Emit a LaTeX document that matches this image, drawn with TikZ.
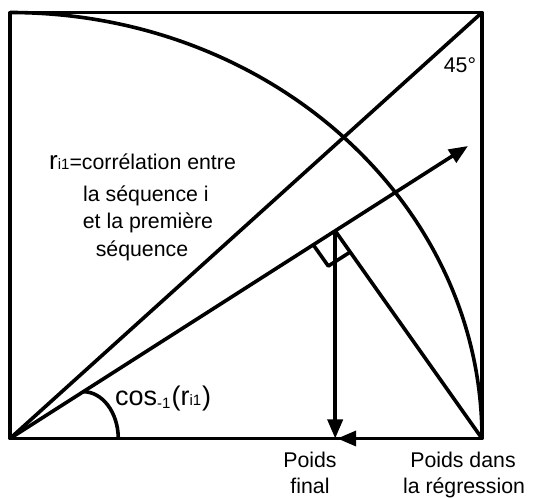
\documentclass[tikz,border=0pt]{standalone}
\usepackage{fontspec}
\setmainfont{Liberation Sans}
\usetikzlibrary{arrows.meta,calc}
\tikzset{
  ln/.style={line width=3.6pt, line join=round},
  arr/.style={ln, -{Triangle[length=19pt,width=15pt]}},
  lbl/.style={font=\fontsize{21.3}{25}\selectfont, inner sep=0pt, anchor=base},
}
\newcommand{\smallsub}[1]{{\fontsize{15}{15}\selectfont #1}}
\newcommand{\bigtxt}[1]{{\fontsize{27}{27}\selectfont #1}}
\begin{document}
\begin{tikzpicture}[x=1pt,y=1pt]
\useasboundingbox (0,0) rectangle (534,497);
\coordinate (O) at (10,58.5);
\coordinate (A) at (10,484.5);
\coordinate (C) at (482,484.5);
\coordinate (B) at (482,58.5);
\coordinate (T) at (468,351);
\coordinate (F) at ($(O)!0.71!(T)$);
\coordinate (Fb) at (F |- O);
\coordinate (G) at ($(Fb)+(2,0)$);
\coordinate (R1) at ($(F)!26pt!(O)$);
\coordinate (R3) at ($(F)!26pt!(B)$);
\coordinate (R2) at ($(R1)+(R3)-(F)$);
\coordinate (S) at ($(O)!0.16!(T)$);
% frame
\draw[ln] (A) rectangle (B);
% quarter arc
\draw[ln] (A) arc[start angle=90, end angle=0, x radius=472, y radius=426];
% diagonal
\draw[ln] (O) -- (C);
% vector
\draw[arr] (O) -- (T);
% projections
\draw[ln] (F) -- (B);
\draw[arr] (F) -- (Fb);
\draw[arr] (B) -- (G);
% right angle marker
\draw[ln] (R1) -- (R2) -- (R3);
% angle arc
\draw[ln] (S) arc[start angle=90, end angle=0, x radius=35, y radius=47];
% labels
\node[lbl] (l45) at (460,424) {45°};
\node[lbl, anchor=base west] (t1) at (49,327) {{\fontsize{26}{26}\selectfont r}\smallsub{i1}=corrélation entre};
\node[lbl] (t2) at (146,295) {la séquence i};
\node[lbl] (t3) at (148,268) {et la première};
\node[lbl] (t4) at (142,240) {séquence};
\node[lbl] (p1) at (310,30) {Poids};
\node[lbl] (p2) at (310,4) {final};
\node[lbl] (q1) at (463,30) {Poids dans};
\node[lbl] (q2) at (464,4) {la régression};
\node[lbl, anchor=base west] (cosl) at (115,91) {\bigtxt{cos}\raisebox{-2pt}{\smallsub{-1}}\hspace{1pt}\bigtxt{(r}\smallsub{i1}\hspace{1pt}\bigtxt{)}};
\end{tikzpicture}
\end{document}
